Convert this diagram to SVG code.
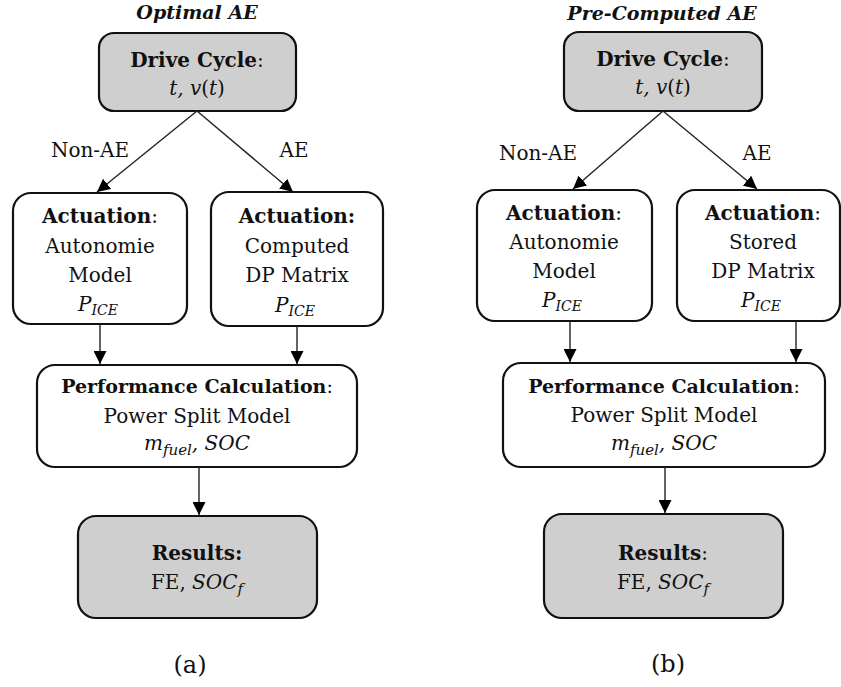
<svg xmlns="http://www.w3.org/2000/svg" width="841" height="687" viewBox="0 0 841 687">
<defs>
<marker id="ah" viewBox="0 0 10 10" refX="10" refY="5" markerWidth="13" markerHeight="13" markerUnits="userSpaceOnUse" orient="auto">
<path d="M0,0 L10,5 L0,10 z" fill="#000"/>
</marker>
<style>
.box{fill:#fff;stroke:#111;stroke-width:2.2}
.gray{fill:#d0cfd0}
.t{font-family:"DejaVu Serif",serif;font-size:20px;fill:#111;text-anchor:middle}
.b{font-weight:bold}
.m{font-style:italic}
.n{font-style:normal}
.title{font-weight:bold;font-style:italic;font-size:19px}
.cap{font-size:24px}
.pc{font-size:19px}
.edge{stroke:#222;stroke-width:1.4;fill:none;marker-end:url(#ah)}
</style>
</defs>
<rect width="841" height="687" fill="#fff"/>

<!-- Panel (a) -->
<text class="t title" x="197" y="19">Optimal AE</text>
<g id="a_drive">
<rect class="box gray" x="99" y="33" width="197" height="78" rx="15"/>
<text class="t" x="197" y="67"><tspan class="b">Drive Cycle</tspan>:</text>
<text class="t m" x="197" y="95">t, v<tspan class="n">(</tspan>t<tspan class="n">)</tspan></text>
</g>
<g id="a_act1">
<rect class="box" x="13" y="193" width="174" height="131" rx="18"/>
<text class="t" x="100" y="223"><tspan class="b">Actuation</tspan>:</text>
<text class="t" x="100" y="253">Autonomie</text>
<text class="t" x="100" y="282">Model</text>
<text class="t m" x="98" y="311">P<tspan font-size="14" dy="4">ICE</tspan></text>
</g>
<g id="a_act2">
<rect class="box" x="211" y="192" width="172" height="134" rx="18"/>
<text class="t" x="297" y="223"><tspan class="b">Actuation:</tspan></text>
<text class="t" x="297" y="253">Computed</text>
<text class="t" x="297" y="282">DP Matrix</text>
<text class="t m" x="295" y="312">P<tspan font-size="14" dy="4">ICE</tspan></text>
</g>
<g id="a_perf">
<rect class="box" x="37" y="365" width="320" height="102" rx="18"/>
<text class="t pc" x="197" y="393"><tspan class="b">Performance Calculation</tspan>:</text>
<text class="t" x="197" y="423">Power Split Model</text>
<text class="t m" x="197" y="450">m<tspan font-size="15" dy="5">fuel</tspan><tspan dy="-5">, SOC</tspan></text>
</g>
<g id="a_res">
<rect class="box gray" x="78" y="516" width="239" height="102" rx="18"/>
<text class="t" x="197" y="560"><tspan class="b">Results:</tspan></text>
<text class="t" x="197" y="589">FE, <tspan class="m">SOC</tspan><tspan class="m" font-size="15" dy="5">f</tspan></text>
</g>
<text class="t cap" x="190" y="673">(a)</text>

<!-- Panel (b) -->
<text class="t title" x="662" y="20">Pre-Computed AE</text>
<g id="b_drive">
<rect class="box gray" x="564" y="32" width="198" height="79" rx="15"/>
<text class="t" x="663" y="66"><tspan class="b">Drive Cycle</tspan>:</text>
<text class="t m" x="663" y="94">t, v<tspan class="n">(</tspan>t<tspan class="n">)</tspan></text>
</g>
<g id="b_act1">
<rect class="box" x="477" y="190" width="175" height="131" rx="18"/>
<text class="t" x="564" y="220"><tspan class="b">Actuation</tspan>:</text>
<text class="t" x="564" y="249">Autonomie</text>
<text class="t" x="564" y="278">Model</text>
<text class="t m" x="562" y="307">P<tspan font-size="14" dy="4">ICE</tspan></text>
</g>
<g id="b_act2">
<rect class="box" x="677" y="190" width="163" height="131" rx="18"/>
<text class="t" x="763" y="220"><tspan class="b">Actuation</tspan>:</text>
<text class="t" x="763" y="249">Stored</text>
<text class="t" x="763" y="278">DP Matrix</text>
<text class="t m" x="761" y="307">P<tspan font-size="14" dy="4">ICE</tspan></text>
</g>
<g id="b_perf">
<rect class="box" x="503" y="363" width="322" height="104" rx="18"/>
<text class="t pc" x="664" y="393"><tspan class="b">Performance Calculation</tspan>:</text>
<text class="t" x="664" y="422">Power Split Model</text>
<text class="t m" x="664" y="450">m<tspan font-size="15" dy="5">fuel</tspan><tspan dy="-5">, SOC</tspan></text>
</g>
<g id="b_res">
<rect class="box gray" x="544" y="514" width="239" height="104" rx="18"/>
<text class="t" x="663" y="560"><tspan class="b">Results</tspan>:</text>
<text class="t" x="663" y="589">FE, <tspan class="m">SOC</tspan><tspan class="m" font-size="15" dy="5">f</tspan></text>
</g>
<text class="t cap" x="668" y="672">(b)</text>

<g id="connectors">
<line class="edge" x1="197" y1="111" x2="97" y2="192"/>
<line class="edge" x1="197" y1="111" x2="293" y2="192"/>
<line class="edge" x1="100" y1="324" x2="100" y2="364"/>
<line class="edge" x1="297" y1="326" x2="297" y2="364"/>
<line class="edge" x1="199" y1="467" x2="199" y2="515"/>
<line class="edge" x1="663" y1="111" x2="573" y2="189"/>
<line class="edge" x1="663" y1="111" x2="757" y2="189"/>
<line class="edge" x1="570" y1="321" x2="570" y2="362"/>
<line class="edge" x1="796" y1="321" x2="796" y2="362"/>
<line class="edge" x1="665" y1="467" x2="665" y2="513"/>
<text class="t" x="90" y="157">Non-AE</text>
<text class="t" x="294" y="157">AE</text>
<text class="t" x="538" y="160">Non-AE</text>
<text class="t" x="757" y="160">AE</text>
</g>
</svg>
